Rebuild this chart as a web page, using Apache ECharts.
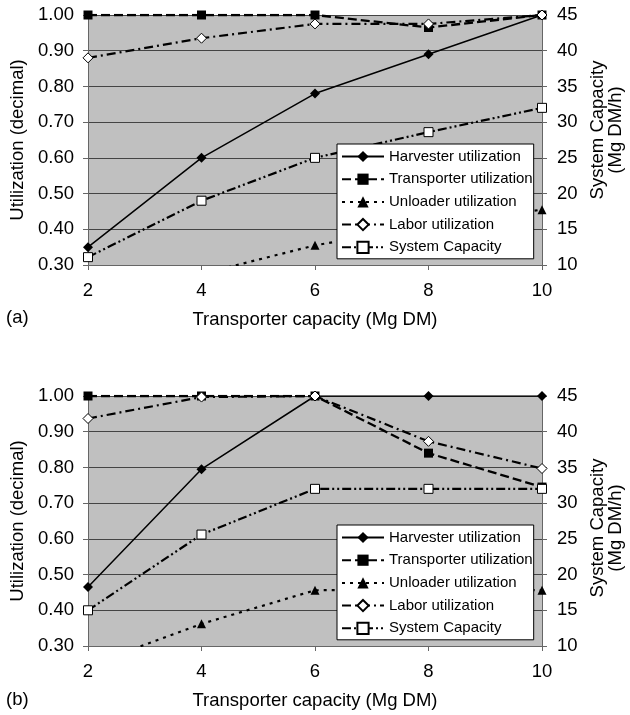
<!DOCTYPE html>
<html>
<head>
<meta charset="utf-8">
<script src="https://cdn.jsdelivr.net/npm/echarts@6/dist/echarts.min.js"></script>
<style>
  html, body { margin: 0; padding: 0; background: #fff; }
  #chart { width: 630px; height: 715px; }
</style>
</head>
<body>
<div id="chart"></div>
<script>
// transporter capacity (Mg DM)
const capacities = [2, 4, 6, 8, 10];

// (a)
const harvesterA   = [0.35, 0.60, 0.78, 0.89, 1.00];
const transporterA = [1.00, 1.00, 1.00, 0.965, 1.00];
const unloaderA    = [0.20, 0.275, 0.355, 0.41, 0.455];
const laborA       = [0.88, 0.935, 0.975, 0.975, 1.00];
const systemCapA   = [11.1, 19.0, 25.0, 28.6, 32.0];

// (b)
const harvesterB   = [0.465, 0.795, 1.00, 1.00, 1.00];
const transporterB = [1.00, 1.00, 1.00, 0.84, 0.745];
const unloaderB    = [0.245, 0.362, 0.456, 0.46, 0.456];
const laborB       = [0.937, 0.997, 1.00, 0.873, 0.797];
const systemCapB   = [15.0, 25.6, 32.0, 32.0, 32.0];

const names = ['Harvester utilization', 'Transporter utilization', 'Unloader utilization', 'Labor utilization', 'System Capacity'];

const FONT = '"Liberation Sans", Arial, sans-serif';
const AX = 18.5;
const pairs = (vals) => capacities.map((x, i) => [x, vals[i]]);

function makeSeries(g, harv, trans, unl, lab, cap) {
    const base = { type: 'line', xAxisIndex: g, clip: true, symbolSize: 9, animation: false };
    return [
        Object.assign({}, base, {
            name: names[0], yAxisIndex: g * 2, data: pairs(harv),
            symbol: 'diamond', symbolSize: 10,
            lineStyle: { color: '#000', width: 1.5, type: 'solid' },
            itemStyle: { color: '#000' }
        }),
        Object.assign({}, base, {
            name: names[1], yAxisIndex: g * 2, data: pairs(trans),
            symbol: 'rect',
            lineStyle: { color: '#000', width: 2.3, type: [9, 4] },
            itemStyle: { color: '#000' }
        }),
        Object.assign({}, base, {
            name: names[2], yAxisIndex: g * 2, data: pairs(unl),
            symbol: 'triangle',
            lineStyle: { color: '#000', width: 2.2, type: [3, 5] },
            itemStyle: { color: '#000' }
        }),
        Object.assign({}, base, {
            name: names[3], yAxisIndex: g * 2, data: pairs(lab),
            symbol: 'diamond', symbolSize: 10,
            lineStyle: { color: '#000', width: 2.2, type: [9, 4, 2, 4] },
            itemStyle: { color: '#fff', borderColor: '#000', borderWidth: 1 }
        }),
        Object.assign({}, base, {
            name: names[4], yAxisIndex: g * 2 + 1, data: pairs(cap),
            symbol: 'rect',
            lineStyle: { color: '#000', width: 2.2, type: [9, 3, 2, 3, 2, 3] },
            itemStyle: { color: '#fff', borderColor: '#000', borderWidth: 1 }
        })
    ];
}

function xAxisFor(g) {
    return {
        type: 'value', gridIndex: g, min: 2, max: 10, interval: 2,
        name: 'Transporter capacity (Mg DM)', nameLocation: 'middle', nameGap: 45,
        nameTextStyle: { fontSize: AX, color: '#000', fontFamily: FONT },
        axisLine: { show: true, onZero: false, lineStyle: { color: '#666', width: 1 } },
        axisTick: { show: true, length: 5, lineStyle: { color: '#666' } },
        axisLabel: { fontSize: AX, color: '#000', fontFamily: FONT, margin: 16 },
        splitLine: { show: false }
    };
}

function leftAxisFor(g) {
    return {
        type: 'value', gridIndex: g, position: 'left', min: 0.3, max: 1.0, interval: 0.1,
        name: 'Utilization (decimal)', nameLocation: 'middle', nameGap: 61,
        nameTextStyle: { fontSize: AX, color: '#000', fontFamily: FONT },
        axisLine: { show: true, lineStyle: { color: '#666', width: 1 } },
        axisTick: { show: true, length: 5, lineStyle: { color: '#666' } },
        axisLabel: { fontSize: AX, color: '#000', fontFamily: FONT, margin: 14,
            formatter: (v) => v.toFixed(2) },
        splitLine: { show: true, lineStyle: { color: '#444', width: 1 } }
    };
}

// right axis title is drawn as graphic text (sits off-centre in the original)
function rightAxisFor(g) {
    return {
        type: 'value', gridIndex: g, position: 'right', min: 10, max: 45, interval: 5,
        axisLine: { show: true, lineStyle: { color: '#666', width: 1 } },
        axisTick: { show: true, length: 5, lineStyle: { color: '#666' } },
        axisLabel: { fontSize: AX, color: '#000', fontFamily: FONT, margin: 15 },
        splitLine: { show: false }
    };
}

function rightTitle(cy) {
    return {
        type: 'text', x: 607, y: cy, rotation: Math.PI / 2,
        style: {
            text: 'System Capacity\n(Mg DM/h)', font: AX + 'px ' + FONT, fill: '#000',
            align: 'center', verticalAlign: 'middle', lineHeight: 18
        }
    };
}

function legendFor(top) {
    return {
        data: names, orient: 'vertical', left: 337, top: top,
        backgroundColor: '#fff', borderColor: '#000', borderWidth: 1,
        padding: [5, 1, 4, 4], itemWidth: 42, itemHeight: 14, itemGap: 7.7,
        textStyle: { fontSize: 15, color: '#000', fontFamily: FONT, lineHeight: 15 },
        selectedMode: false
    };
}

const chart = echarts.init(document.getElementById('chart'));
chart.setOption({
    animation: false,
    backgroundColor: '#fff',
    grid: [
        { left: 88, right: 88, top: 15, height: 250, show: true, backgroundColor: '#c0c0c0', borderWidth: 0, outerBoundsMode: 'none', containLabel: false },
        { left: 88, right: 88, top: 396, height: 250, show: true, backgroundColor: '#c0c0c0', borderWidth: 0, outerBoundsMode: 'none', containLabel: false }
    ],
    xAxis: [xAxisFor(0), xAxisFor(1)],
    yAxis: [leftAxisFor(0), rightAxisFor(0), leftAxisFor(1), rightAxisFor(1)],
    legend: [legendFor(144), legendFor(525)],
    graphic: [
        { type: 'text', left: 6, top: 308, style: { text: '(a)', font: AX + 'px ' + FONT, fill: '#000' } },
        { type: 'text', left: 6, top: 690, style: { text: '(b)', font: AX + 'px ' + FONT, fill: '#000' } },
        rightTitle(130),
        rightTitle(528)
    ],
    series: makeSeries(0, harvesterA, transporterA, unloaderA, laborA, systemCapA)
        .concat(makeSeries(1, harvesterB, transporterB, unloaderB, laborB, systemCapB))
});
</script>
</body>
</html>
